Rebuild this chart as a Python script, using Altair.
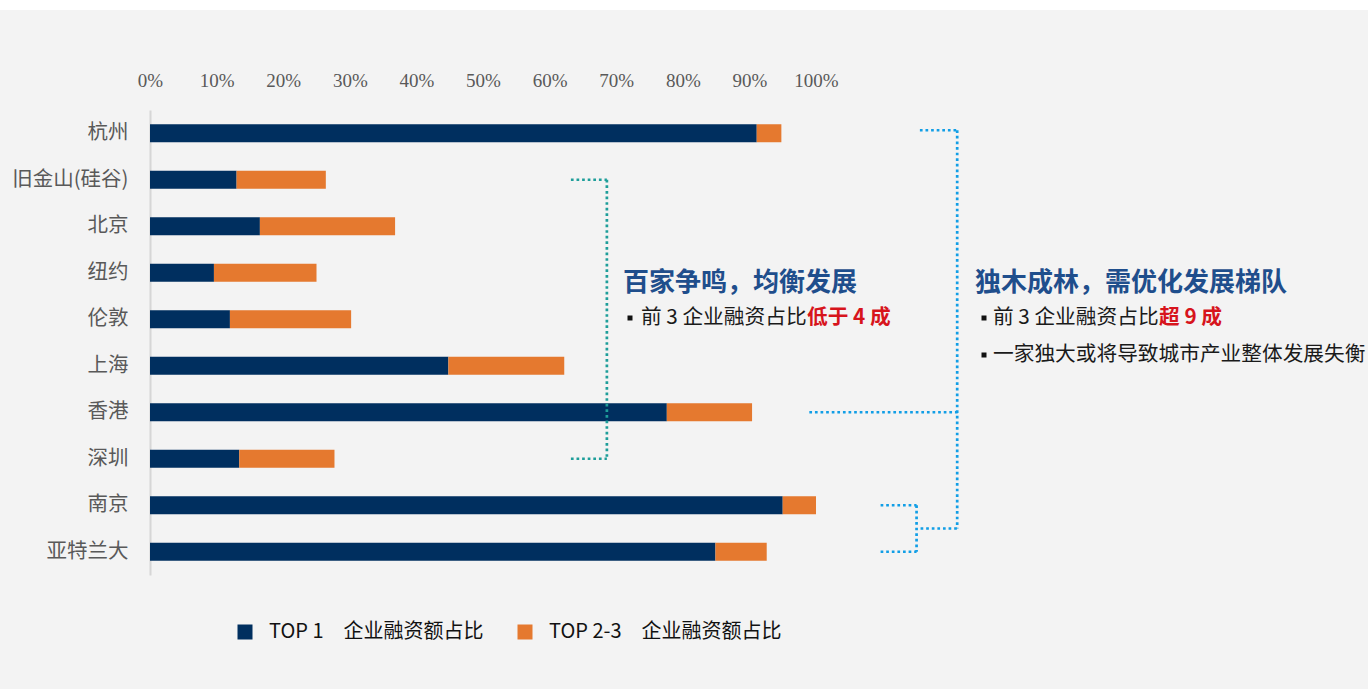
import altair as alt
import pandas as pd

# ---------------- data ----------------
cities = ["杭州", "旧金山(硅谷)", "北京", "纽约", "伦敦", "上海", "香港", "深圳", "南京", "亚特兰大"]
top1 = [0.911, 0.130, 0.165, 0.096, 0.120, 0.448, 0.776, 0.134, 0.950, 0.849]
top23 = [0.037, 0.134, 0.203, 0.154, 0.182, 0.174, 0.128, 0.143, 0.050, 0.077]
series = ["TOP 1\u3000企业融资额占比", "TOP 2-3\u3000企业融资额占比"]
colors = ["#002F5F", "#E5792F"]
tick_values = [0, 0.1, 0.2, 0.3, 0.4, 0.5, 0.6, 0.7, 0.8, 0.9, 1.0]

left_title = "百家争鸣，均衡发展"
left_bullet = ["前 3 企业融资占比", "低于 4 成"]
right_title = "独木成林，需优化发展梯队"
right_bullet1 = ["前 3 企业融资占比", "超 9 成"]
right_bullet2 = "一家独大或将导致城市产业整体发展失衡"

rows = []
for i, c in enumerate(cities):
    rows.append({"city": c, "series": series[0], "value": top1[i], "ord": 0})
    rows.append({"city": c, "series": series[1], "value": top23[i], "ord": 1})
df = pd.DataFrame(rows)

# ---------------- layout ----------------
W, H = 666, 465
OX, OY = 150, 110
N = len(cities)
STEP = H / N
CJK = "Noto Sans CJK SC"


def px(v):  # percent value -> x offset in plot area
    return v * W


def yc(i):  # row centre -> y offset in plot area
    return (i + 0.5) * STEP


one = pd.DataFrame({"a": [0]})

bars = alt.Chart(df).mark_bar(size=18).encode(
    y=alt.Y(
        "city:N",
        sort=cities,
        title=None,
        scale=alt.Scale(paddingInner=0.6, paddingOuter=0.3),
        axis=alt.Axis(
            orient="left", ticks=False, domain=True, domainColor="#d6d6d6", domainWidth=2,
            labelFont=CJK, labelFontSize=20.5, labelColor="#595959", labelPadding=22,
            grid=False,
        ),
    ),
    x=alt.X(
        "value:Q",
        stack="zero",
        title=None,
        scale=alt.Scale(domain=[0, 1], nice=False),
        axis=alt.Axis(
            orient="top", values=tick_values, format=".0%", ticks=False, domain=False,
            grid=False, labelFont="Liberation Serif", labelFontSize=19,
            labelColor="#595959", labelPadding=20, labelFlush=False,
        ),
    ),
    color=alt.Color(
        "series:N",
        scale=alt.Scale(domain=series, range=colors),
        legend=alt.Legend(
            title=None, orient="none", legendX=85, legendY=512, direction="horizontal",
            symbolType="square", symbolSize=225, symbolStrokeWidth=0, symbolOpacity=1,
            labelFont=CJK, labelFontSize=20, labelColor="#111111", labelOffset=14,
            labelLimit=400, columnPadding=31, padding=0,
        ),
    ),
    order=alt.Order("ord:Q"),
)

layers = []

# white strip at the very top of the picture
layers.append(
    alt.Chart(one).mark_rect(color="white").encode(
        x=alt.value(-OX), x2=alt.value(1368 - OX), y=alt.value(-OY), y2=alt.value(-OY + 10)
    )
)
layers.append(bars)


def seg(x1, y1, x2, y2, color):
    return alt.Chart(one).mark_rule(color=color, strokeWidth=2.7, strokeDash=[2.7, 2.9]).encode(
        x=alt.value(x1), x2=alt.value(x2), y=alt.value(y1), y2=alt.value(y2)
    )


TEAL = "#1E9E9A"
BLUE = "#119EE6"
# teal bracket (旧金山 -> 深圳)
tx1, tx2 = px(0.632), px(0.686)
layers += [
    seg(tx1, yc(1), tx2, yc(1), TEAL),
    seg(tx2, yc(1), tx2, yc(7), TEAL),
    seg(tx1, yc(7), tx2, yc(7), TEAL),
]
# blue brackets
bx1, bx2 = px(1.156), px(1.212)
mid89 = (yc(8) + yc(9)) / 2
sx1, sx2 = px(1.097), px(1.151)
layers += [
    seg(bx1, yc(0) - 3, bx2, yc(0) - 3, BLUE),
    seg(bx2, yc(0) - 3, bx2, mid89, BLUE),
    seg(px(0.990), yc(6), bx2 + 2, yc(6), BLUE),
    seg(sx2 + 4, mid89, bx2, mid89, BLUE),
    seg(sx1, yc(8), sx2, yc(8), BLUE),
    seg(sx2, yc(8), sx2, yc(9), BLUE),
    seg(sx1, yc(9), sx2, yc(9), BLUE),
]


def txt(s, x, y, size, color, weight="normal"):
    return alt.Chart(pd.DataFrame({"t": [s]})).mark_text(
        align="left", baseline="middle", font=CJK, fontSize=size, fontWeight=weight, color=color
    ).encode(x=alt.value(x), y=alt.value(y), text="t:N")


def bullet(x, y):
    return alt.Chart(one).mark_square(size=25, color="#111111", opacity=1).encode(
        x=alt.value(x), y=alt.value(y)
    )


TITLE_C = "#1F4E8C"
RED = "#D7141C"
TXT_C = "#1a1a1a"
BS = 20.7

layers += [
    txt(left_title, 623 - OX, 283 - OY, 26, TITLE_C, "bold"),
    bullet(630 - OX, 318 - OY),
    txt(left_bullet[0], 641 - OX, 318 - OY, BS, TXT_C),
    txt(left_bullet[1], 807 - OX, 318 - OY, BS, RED, "bold"),
    txt(right_title, 975 - OX, 283 - OY, 26, TITLE_C, "bold"),
    bullet(984 - OX, 318 - OY),
    txt(right_bullet1[0], 993 - OX, 318 - OY, BS, TXT_C),
    txt(right_bullet1[1], 1159 - OX, 318 - OY, BS, RED, "bold"),
    bullet(984 - OX, 355 - OY),
    txt(right_bullet2, 993 - OX, 355 - OY, BS, TXT_C),
]

chart = alt.layer(*layers).properties(
    width=W,
    height=H,
    autosize=alt.AutoSizeParams(type="none"),
    padding={"left": OX, "top": OY, "right": 1368 - OX - W, "bottom": 689 - OY - H},
    background="#f3f3f3",
).configure_view(stroke=None)

chart.save("out.html", embed_options={"renderer": "svg", "actions": False})
